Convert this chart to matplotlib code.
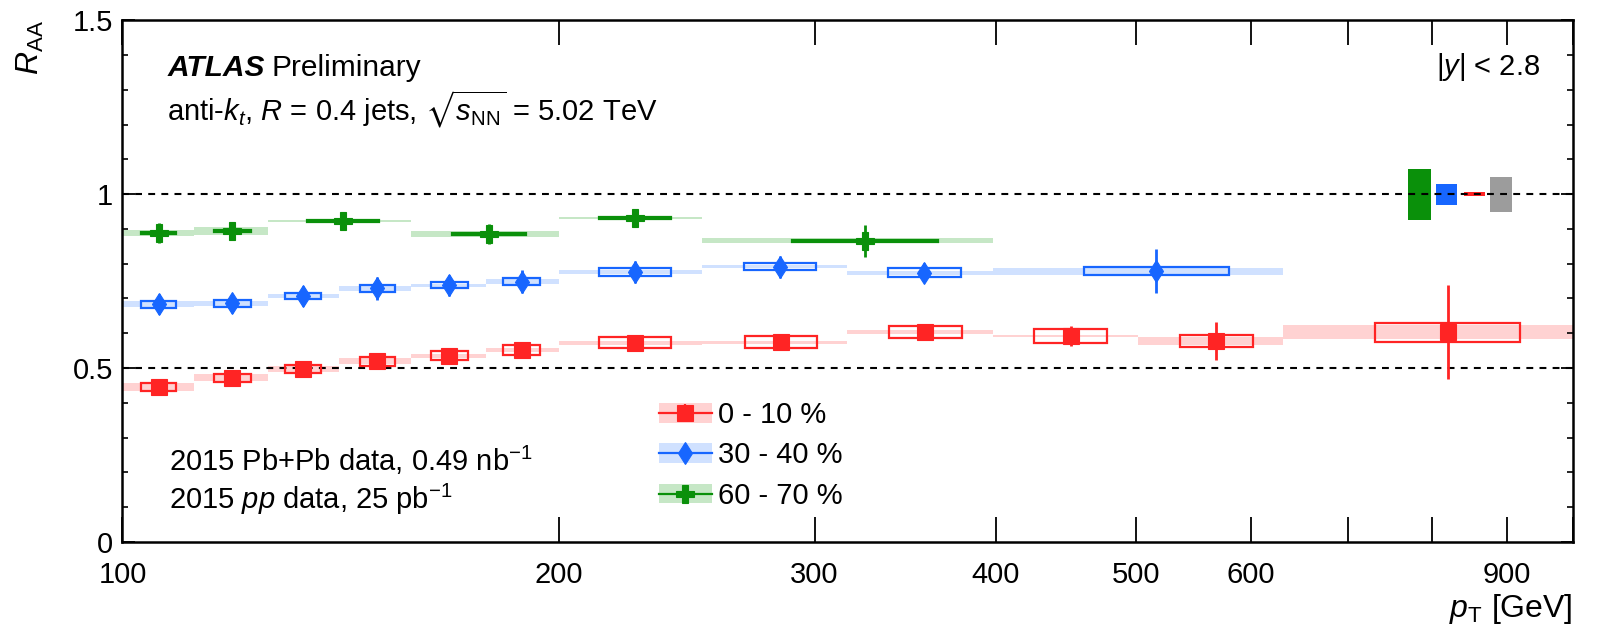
import numpy as np
import matplotlib
matplotlib.use("Agg")
import matplotlib.pyplot as plt
from matplotlib.patches import Rectangle, Patch
from matplotlib.lines import Line2D
from matplotlib.ticker import FixedLocator, FixedFormatter, MultipleLocator, NullLocator

# ---------------- data ----------------
cent_labels = ["0 - 10 %", "30 - 40 %", "60 - 70 %"]

# 0-10 %
red_edges = [100, 112, 126, 141, 158, 178, 200, 251, 316, 398, 501, 631, 1000]
red_x = [105.9, 119.0, 133.2, 149.9, 168.0, 188.5, 225.6, 284.5, 357.6, 450.4, 567.6, 819.6]
red_y = [0.446, 0.472, 0.497, 0.520, 0.535, 0.552, 0.573, 0.574, 0.604, 0.592, 0.578, 0.603]
red_stat = [0.010, 0.010, 0.010, 0.010, 0.010, 0.012, 0.012, 0.014, 0.016, 0.030, 0.054, 0.136]
red_unc = [0.012, 0.012, 0.012, 0.013, 0.013, 0.015, 0.015, 0.017, 0.017, 0.020, 0.0175, 0.027]
red_cor = [0.011, 0.010, 0.008, 0.008, 0.006, 0.006, 0.006, 0.005, 0.005, 0.004, 0.012, 0.020]

# 30-40 %
blue_edges = [100, 112, 126, 141, 158, 178, 200, 251, 316, 398, 631]
blue_x = [105.9, 119.0, 133.2, 149.9, 168.0, 188.5, 225.5, 284.0, 357.0, 516.0]
blue_y = [0.684, 0.686, 0.707, 0.729, 0.738, 0.748, 0.777, 0.791, 0.774, 0.779]
blue_stat = [0.030, 0.028, 0.030, 0.033, 0.030, 0.033, 0.032, 0.032, 0.028, 0.062]
blue_unc = [0.010, 0.010, 0.009, 0.010, 0.008, 0.010, 0.011, 0.010, 0.013, 0.0125]
blue_cor = [0.009, 0.008, 0.006, 0.007, 0.005, 0.007, 0.006, 0.004, 0.005, 0.010]

# 60-70 %
green_edges = [100, 112, 126, 158, 200, 251, 398]
green_x = [105.9, 119.0, 141.9, 179.0, 225.5, 325.0]
green_y = [0.889, 0.895, 0.923, 0.885, 0.931, 0.866]
green_stat = [0.029, 0.026, 0.025, 0.029, 0.026, 0.046]
green_unc = [0.0025, 0.0025, 0.0025, 0.0025, 0.0025, 0.0025]
green_cor = [0.009, 0.011, 0.003, 0.008, 0.003, 0.007]

# global (normalisation) uncertainties drawn at R_AA = 1
glob_lo = [770, 805, 841, 876]
glob_hi = [798, 832, 869, 908]
glob_err = [0.073, 0.030, 0.006, 0.050]

x_ticks = [100, 200, 300, 400, 500, 600, 700, 800, 900, 1000]
x_ticklabels = ["100", "200", "300", "400", "500", "600", "", "", "900", ""]
y_ticks = [0, 0.5, 1, 1.5]
y_ticklabels = ["0", "0.5", "1", "1.5"]

# ---------------- style ----------------
RED, BLUE, GREEN = "#ff2424", "#1766ff", "#0a900a"
RED_B, BLUE_B, GREEN_B = "#ffd2d2", "#d0e1ff", "#c6e7c6"
GRAY = "#9c9c9c"
TXT = 21

plt.rcParams["font.family"] = ["Liberation Sans", "DejaVu Sans"]
plt.rcParams["mathtext.fontset"] = "custom"
plt.rcParams["mathtext.rm"] = "Liberation Sans"
plt.rcParams["mathtext.it"] = "Liberation Sans:italic"
plt.rcParams["mathtext.bf"] = "Liberation Sans:bold"
plt.rcParams["mathtext.fallback"] = "stixsans"

fig = plt.figure(figsize=(15.97, 6.30), dpi=100)
ax = fig.add_axes([0.0767, 0.140, 0.9083, 0.8276])
ax.set_xscale("log")
ax.set_xlim(100, 1000)
ax.set_ylim(0, 1.5)

MS = {"s": 11.5, "d": 11.5, "P": 13}


def draw_series(edges, x, y, stat, unc, cor, color, band, marker):
    edges = np.asarray(edges, dtype=float)
    lo, hi = edges[:-1], edges[1:]
    for i in range(len(x)):
        ax.add_patch(Rectangle((lo[i], y[i] - cor[i]), hi[i] - lo[i], 2 * cor[i],
                               facecolor=band, edgecolor="none", zorder=1))
        hw = 0.25 * np.log10(hi[i] / lo[i])
        bl, br = x[i] * 10 ** (-hw), x[i] * 10 ** hw
        ax.add_patch(Rectangle((bl, y[i] - unc[i]), br - bl, 2 * unc[i],
                               facecolor="none", edgecolor=color, lw=1.6, zorder=3))
    ax.errorbar(x, y, yerr=stat, fmt=marker, color=color, ms=MS[marker], mew=0.8,
                elinewidth=2.0, capsize=0, zorder=4)


draw_series(red_edges, red_x, red_y, red_stat, red_unc, red_cor, RED, RED_B, "s")
draw_series(blue_edges, blue_x, blue_y, blue_stat, blue_unc, blue_cor, BLUE, BLUE_B, "d")
draw_series(green_edges, green_x, green_y, green_stat, green_unc, green_cor, GREEN, GREEN_B, "P")

for lo, hi, e, c in zip(glob_lo, glob_hi, glob_err, [GREEN, BLUE, RED, GRAY]):
    ax.add_patch(Rectangle((lo, 1 - e), hi - lo, 2 * e, facecolor=c, edgecolor="none", zorder=1))

for yv in (0.5, 1.0):
    ax.axhline(yv, color="black", lw=1.5, ls=(0, (3.3, 3.0)), zorder=2.5)

# ---------------- axes ----------------
ax.xaxis.set_major_locator(FixedLocator(x_ticks))
ax.xaxis.set_major_formatter(FixedFormatter(x_ticklabels))
ax.xaxis.set_minor_locator(NullLocator())
ax.yaxis.set_major_locator(FixedLocator(y_ticks))
ax.yaxis.set_major_formatter(FixedFormatter(y_ticklabels))
ax.yaxis.set_minor_locator(MultipleLocator(0.1))
ax.tick_params(axis="x", which="major", direction="in", length=18, width=1.3,
               top=True, bottom=True, labelsize=TXT, pad=14)
ax.tick_params(axis="y", which="major", direction="in", length=9, width=1.3,
               left=True, right=True, labelsize=TXT, pad=7)
ax.tick_params(axis="y", which="minor", direction="in", length=4.5, width=1.2,
               left=True, right=True)
for s in ax.spines.values():
    s.set_linewidth(1.8)

ax.set_xlabel(r"$p_{\mathrm{T}}$ [GeV]", fontsize=23, loc="right")
ax.xaxis.set_label_coords(1.0, -0.097)
ax.set_ylabel(r"$R_{\mathrm{AA}}$", fontsize=23, loc="top")
ax.yaxis.set_label_coords(-0.053, 1.0)

# ---------------- texts ----------------
t1 = ax.text(0.031, 0.908, "ATLAS", transform=ax.transAxes, fontsize=TXT + 0.5,
             fontweight="bold", fontstyle="italic", va="center", ha="left")
ax.annotate("Preliminary", xy=(1, 0), xycoords=t1, xytext=(5, 0),
            textcoords="offset points", fontsize=TXT + 0.5, va="bottom", ha="left")
ax.text(0.031, 0.830, r"anti-$k_{t}$, $R$ = 0.4 jets, $\sqrt{s_{\mathrm{NN}}}$ = 5.02 TeV",
        transform=ax.transAxes, fontsize=TXT, va="center", ha="left")
ax.text(0.977, 0.910, r"|$y$| < 2.8", transform=ax.transAxes, fontsize=TXT,
        va="center", ha="right")
ax.text(0.032, 0.157, r"2015 Pb+Pb data, 0.49 nb$^{-1}$", transform=ax.transAxes,
        fontsize=TXT, va="center", ha="left")
ax.text(0.032, 0.082, r"2015 $pp$ data, 25 pb$^{-1}$", transform=ax.transAxes,
        fontsize=TXT, va="center", ha="left")

# ---------------- legend ----------------
handles = []
for c, b, m in [(RED, RED_B, "s"), (BLUE, BLUE_B, "d"), (GREEN, GREEN_B, "P")]:
    handles.append((Patch(facecolor=b, edgecolor="none"),
                    Line2D([], [], color=c, lw=1.6, marker=m, ms=MS[m], mew=0.8),
                    Line2D([], [], color=c, ls="none", marker="|", ms=13, mew=1.6)))
ax.legend(handles, cent_labels, loc="upper left", bbox_to_anchor=(0.3700, 0.270),
          frameon=False, fontsize=TXT, handlelength=1.8, handleheight=0.65,
          labelspacing=0.42, handletextpad=0.22, borderpad=0, borderaxespad=0)

fig.savefig("out.png", dpi=100)
